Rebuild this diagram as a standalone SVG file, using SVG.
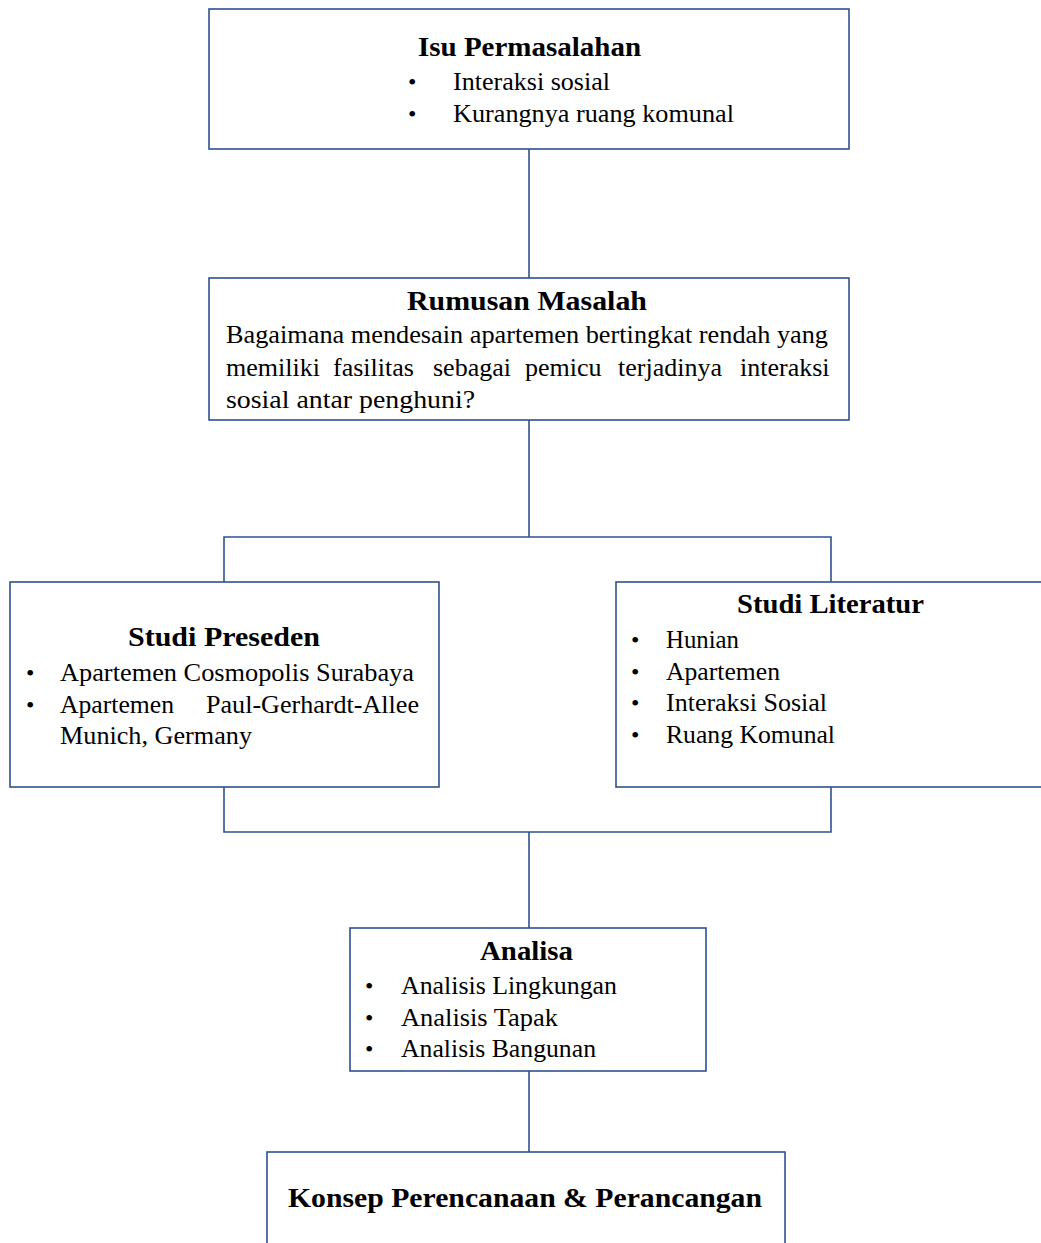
<svg xmlns="http://www.w3.org/2000/svg" width="1041" height="1243" viewBox="0 0 1041 1243">
<style>
.box{fill:#fff;stroke:#2F528F;stroke-width:1.6}
.ln{fill:none;stroke:#2F528F;stroke-width:1.6}
text{font-family:"Liberation Serif","Times New Roman",serif;fill:#000}
.t{font-size:28px;font-weight:bold}
.b{font-size:26px}
.d{font-size:24px}
</style>
<rect width="1041" height="1243" fill="#fff"/>
<g id="connectors">
<line class="ln" x1="529" y1="149" x2="529" y2="278"/>
<line class="ln" x1="529" y1="420" x2="529" y2="537"/>
<polyline class="ln" points="224,582 224,537 831,537 831,582"/>
<polyline class="ln" points="224,787 224,832 831,832 831,787"/>
<line class="ln" x1="529" y1="832" x2="529" y2="928"/>
<line class="ln" x1="529" y1="1071" x2="529" y2="1152"/>
</g>
<g id="isu">
<rect class="box" x="209" y="9" width="640" height="140"/>
<text class="t" x="418" y="56" textLength="223" lengthAdjust="spacingAndGlyphs">Isu Permasalahan</text>
<text class="d" x="408" y="90">•</text>
<text class="b" x="453" y="90" textLength="157" lengthAdjust="spacingAndGlyphs">Interaksi sosial</text>
<text class="d" x="408" y="122">•</text>
<text class="b" x="453" y="122" textLength="281" lengthAdjust="spacingAndGlyphs">Kurangnya ruang komunal</text>
</g>
<g id="rumusan">
<rect class="box" x="209" y="278" width="640" height="142"/>
<text class="t" x="407" y="310" textLength="240" lengthAdjust="spacingAndGlyphs">Rumusan  Masalah</text>
<text class="b" x="226" y="343" textLength="602" lengthAdjust="spacingAndGlyphs">Bagaimana mendesain apartemen bertingkat rendah yang</text>
<text class="b" y="376"><tspan x="226">memiliki</tspan><tspan x="333">fasilitas</tspan><tspan x="433">sebagai</tspan><tspan x="525">pemicu</tspan><tspan x="618">terjadinya</tspan><tspan x="740">interaksi</tspan></text>
<text class="b" x="226" y="408" textLength="249" lengthAdjust="spacingAndGlyphs">sosial antar penghuni?</text>
</g>
<g id="preseden">
<rect class="box" x="10" y="582" width="429" height="205"/>
<text class="t" x="128" y="646" textLength="192" lengthAdjust="spacingAndGlyphs">Studi  Preseden</text>
<text class="d" x="26" y="681">•</text>
<text class="b" x="60" y="681" textLength="354" lengthAdjust="spacingAndGlyphs">Apartemen Cosmopolis  Surabaya</text>
<text class="d" x="26" y="713">•</text>
<text class="b" x="60" y="713" textLength="114" lengthAdjust="spacingAndGlyphs">Apartemen</text>
<text class="b" x="206" y="713" textLength="213" lengthAdjust="spacingAndGlyphs">Paul-Gerhardt-Allee</text>
<text class="b" x="60" y="744" textLength="192" lengthAdjust="spacingAndGlyphs">Munich, Germany</text>
</g>
<g id="literatur">
<rect class="box" x="616" y="582" width="430" height="205"/>
<text class="t" x="737" y="613" textLength="187" lengthAdjust="spacingAndGlyphs">Studi  Literatur</text>
<text class="d" x="631" y="648">•</text>
<text class="b" x="666" y="648" textLength="73" lengthAdjust="spacingAndGlyphs">Hunian</text>
<text class="d" x="631" y="680">•</text>
<text class="b" x="666" y="680" textLength="114" lengthAdjust="spacingAndGlyphs">Apartemen</text>
<text class="d" x="631" y="711">•</text>
<text class="b" x="666" y="711" textLength="161" lengthAdjust="spacingAndGlyphs">Interaksi Sosial</text>
<text class="d" x="631" y="743">•</text>
<text class="b" x="666" y="743" textLength="169" lengthAdjust="spacingAndGlyphs">Ruang Komunal</text>
</g>
<g id="analisa">
<rect class="box" x="350" y="928" width="356" height="143"/>
<text class="t" x="480" y="960" textLength="93" lengthAdjust="spacingAndGlyphs">Analisa</text>
<text class="d" x="365" y="994">•</text>
<text class="b" x="401" y="994" textLength="216" lengthAdjust="spacingAndGlyphs">Analisis  Lingkungan</text>
<text class="d" x="365" y="1026">•</text>
<text class="b" x="401" y="1026" textLength="157" lengthAdjust="spacingAndGlyphs">Analisis  Tapak</text>
<text class="d" x="365" y="1057">•</text>
<text class="b" x="401" y="1057" textLength="195" lengthAdjust="spacingAndGlyphs">Analisis  Bangunan</text>
</g>
<g id="konsep">
<rect class="box" x="267" y="1152" width="518" height="100"/>
<text class="t" x="288" y="1207" textLength="474" lengthAdjust="spacingAndGlyphs">Konsep Perencanaan  &amp; Perancangan</text>
</g>
</svg>
